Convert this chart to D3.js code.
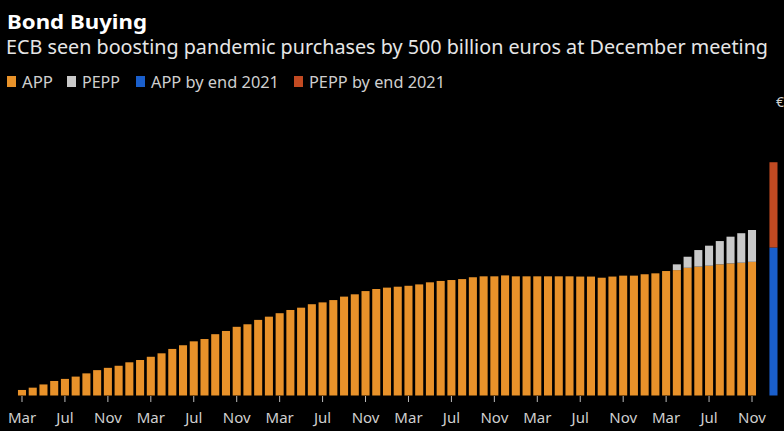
<!DOCTYPE html>
<html><head><meta charset="utf-8">
<script src="https://cdn.jsdelivr.net/npm/d3@7"></script>
<style>html,body{margin:0;padding:0;background:#000;}svg{display:block;}</style>
</head><body>
<script>
// Monthly holdings, billions of euros, Mar 2015 .. Nov 2020
const months = d3.timeMonth.range(new Date(2015, 2, 1), new Date(2020, 11, 1)).map(d3.timeFormat("%Y-%m"));
const appValues = [
  120, 170, 240, 315, 360, 410, 480, 550, 600, 645,
  720, 770, 840, 915, 1010, 1090, 1175, 1225, 1330, 1400,
  1490, 1545, 1640, 1710, 1785, 1855, 1905, 1980, 2020, 2070,
  2145, 2195, 2265, 2310, 2340, 2360, 2380, 2410, 2455, 2485,
  2505, 2525, 2565, 2585, 2585, 2605, 2585, 2585, 2585, 2585,
  2585, 2585, 2580, 2580, 2555, 2580, 2600, 2600, 2630, 2650,
  2700, 2720, 2770, 2795, 2815, 2845, 2865, 2880, 2900
];
const peppValues = [
  0, 0, 0, 0, 0, 0, 0, 0, 0, 0,
  0, 0, 0, 0, 0, 0, 0, 0, 0, 0,
  0, 0, 0, 0, 0, 0, 0, 0, 0, 0,
  0, 0, 0, 0, 0, 0, 0, 0, 0, 0,
  0, 0, 0, 0, 0, 0, 0, 0, 0, 0,
  0, 0, 0, 0, 0, 0, 0, 0, 0, 0,
  0, 125, 240, 360, 435, 505, 580, 640, 690
];
const endCategory = "end2021";
const appEnd2021 = 3210;
const peppEnd2021 = 1850;
const tickLabels = ["Mar","Jul","Nov","Mar","Jul","Nov","Mar","Jul","Nov","Mar","Jul","Nov","Mar","Jul","Nov","Mar","Jul","Nov"];
const legendLabels = ["APP", "PEPP", "APP by end 2021", "PEPP by end 2021"];
const colors = {APP: "#E8922A", PEPP: "#C9C9C9", "APP by end 2021": "#1A5FCC", "PEPP by end 2021": "#C24A22"};

const W = 784, H = 431;
const svg = d3.select("body").append("svg").attr("width", W).attr("height", H).style("background", "#000");
svg.append("rect").attr("width", W).attr("height", H).attr("fill", "#000");

const domain = months.concat(["gap", endCategory]);
const x = d3.scaleBand().domain(domain).range([17.97, 777.5]).paddingInner(0.25).paddingOuter(0);
const y = d3.scaleLinear().domain([0, 6000]).range([395.5, 118.9]);

const font = "'Noto Sans', 'DejaVu Sans', sans-serif";

// Title
svg.append("text").attr("x", 7).attr("y", 29).text("Bond Buying")
  .attr("fill", "#fff").attr("font-family", font).attr("font-weight", "bold").attr("font-size", 20)
  .attr("textLength", 140).attr("lengthAdjust", "spacingAndGlyphs");
svg.append("text").attr("x", 6).attr("y", 54).text("ECB seen boosting pandemic purchases by 500 billion euros at December meeting")
  .attr("fill", "#e6e6e6").attr("font-family", font).attr("font-size", 19)
  .attr("textLength", 762).attr("lengthAdjust", "spacingAndGlyphs");

// Legend
const legendX = [7, 67, 136, 294];
const legendW = [31, 38, 128, 136];
const lg = svg.append("g");
legendLabels.forEach((l, i) => {
  lg.append("rect").attr("x", legendX[i]).attr("y", 76).attr("width", 9).attr("height", 11).attr("fill", colors[l]);
  lg.append("text").attr("x", legendX[i] + 15).attr("y", 88).text(l)
    .attr("fill", "#cfcfcf").attr("font-family", font).attr("font-size", 17)
    .attr("textLength", legendW[i]).attr("lengthAdjust", "spacingAndGlyphs");
});

// Currency label (cut off at edge, as in the source)
svg.append("text").attr("x", 776).attr("y", 107).text("€")
  .attr("fill", "#cfcfcf").attr("font-family", font).attr("font-size", 14);

// Bars
const bars = svg.append("g");
bars.selectAll("rect.app").data(months).join("rect").attr("class", "app")
  .attr("x", d => x(d)).attr("width", x.bandwidth())
  .attr("y", (d, i) => y(appValues[i])).attr("height", (d, i) => y(0) - y(appValues[i]))
  .attr("fill", colors.APP);
bars.selectAll("rect.pepp").data(months.filter((d, i) => peppValues[i] > 0)).join("rect").attr("class", "pepp")
  .attr("x", d => x(d)).attr("width", x.bandwidth())
  .attr("y", d => { const i = months.indexOf(d); return y(appValues[i] + peppValues[i]); })
  .attr("height", d => { const i = months.indexOf(d); return y(appValues[i]) - y(appValues[i] + peppValues[i]); })
  .attr("fill", colors.PEPP);
bars.append("rect").attr("x", x(endCategory)).attr("width", x.bandwidth())
  .attr("y", y(appEnd2021)).attr("height", y(0) - y(appEnd2021)).attr("fill", colors["APP by end 2021"]);
bars.append("rect").attr("x", x(endCategory)).attr("width", x.bandwidth())
  .attr("y", y(appEnd2021 + peppEnd2021)).attr("height", y(appEnd2021) - y(appEnd2021 + peppEnd2021)).attr("fill", colors["PEPP by end 2021"]);

// X axis
const tickMonths = months.filter((d, i) => i % 4 === 0);
const axis = d3.axisBottom(x).tickValues(tickMonths).tickSize(6).tickPadding(10)
  .tickFormat((d, i) => tickLabels[i]);
const ax = svg.append("g").attr("transform", `translate(0,${y(0) + 0.5})`).call(axis);
ax.select(".domain").remove();
ax.selectAll(".tick line").attr("stroke", "#bdbdbd");
ax.selectAll(".tick text").attr("fill", "#cfcfcf").attr("font-family", font).attr("font-size", 15);
</script>
</body></html>
